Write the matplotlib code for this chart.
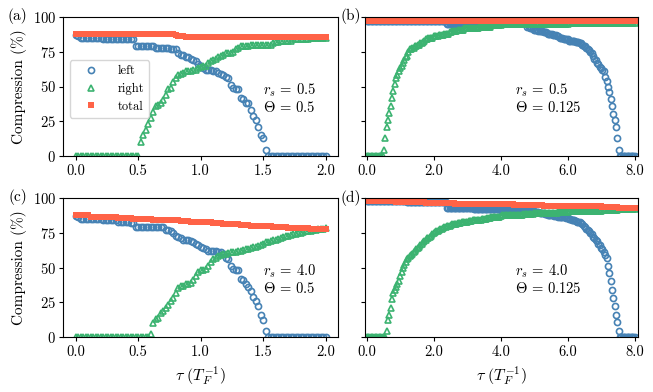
import numpy as np
import matplotlib.pyplot as plt
from matplotlib.ticker import FormatStrFormatter

plt.rcParams['font.family'] = 'serif'
plt.rcParams['font.serif'] = ['cmr10']
plt.rcParams['mathtext.fontset'] = 'cm'
plt.rcParams['axes.formatter.use_mathtext'] = True
plt.rcParams['axes.unicode_minus'] = False

blue = '#4682b4'
green = '#3cb371'
red = '#ff6347'

# tau sampling grids (T_F^-1)
tau_short = np.linspace(0, 2, 101)   # panels (a), (c)
tau_long = np.linspace(0, 8, 201)    # panels (b), (d)

# ---- (a) r_s = 0.5, Theta = 0.5
left_a = ([87, 86] + [85]*9 + [84]*13 + [79]*8 + [78]*6 + [77]*3
          + [74, 73, 73, 71, 71, 70, 69, 68, 66, 65,
             63, 62, 62, 62, 61, 61, 60, 59, 58, 57,
             56, 51, 49, 48, 48, 42, 41, 38, 38, 33,
             29, 26, 21, 15, 13, 4]
          + [0]*24)
right_a = ([0]*26
           + [10, 15, 19, 23, 27, 32, 36, 37, 38, 40,
              44, 48, 49, 53, 56, 58, 59, 60, 61, 61,
              61, 62, 62, 63, 64, 65, 65, 67, 68, 69,
              70, 71, 72, 73, 74, 74, 74, 75, 77, 78]
           + [79, 79, 79, 79, 80, 80, 80, 80, 80, 80, 80, 80, 80, 81]
           + [82, 82, 83, 83, 83, 83, 83, 84, 84, 84, 84, 84, 84, 84, 85]
           + [85]*6)
total_a = [87.5]*40 + [87, 86.5, 86, 86] + [85.5]*57

# ---- (b) r_s = 0.5, Theta = 0.125
left_b = ([97]*60 + [95]*15 + [96]*45
          + [93, 93, 92, 92, 92, 91, 91, 91, 90, 90,
             90, 90, 89, 89, 89, 88, 88, 88, 88, 87,
             87, 87, 86, 86, 85, 85, 85, 84, 84, 84,
             84, 83, 83, 83, 83, 83, 82, 82, 82, 81,
             81, 80, 79, 79, 78, 77, 76, 75, 74, 72,
             70, 69, 67, 66, 64, 63, 62, 61, 57, 54,
             50, 46, 41, 36, 30, 26, 21, 13, 4]
          + [0]*12)
right_b = ([0]*13
           + [4, 13, 21, 26, 31, 36, 42, 47, 52, 56,
              58, 61, 63, 65, 67, 69, 71, 72, 75, 77,
              77, 78, 78, 79, 79, 80, 80, 81, 81, 82,
              83, 84, 84, 85, 85, 85, 85, 86]
           + [86, 86, 86, 87, 87, 87, 87, 88, 88, 88, 88, 89]
           + [89, 90, 90, 90, 90, 91, 91, 91, 91, 91, 92, 92, 92]
           + [92]*8 + [93]*9 + [94]*8
           + [95]*50 + [96]*50)
total_b = [97]*201

# ---- (c) r_s = 4.0, Theta = 0.5
left_c = ([87, 86] + [85]*9 + [84]*6 + [83]*5 + [82]*2 + [79]*12
          + [77, 77, 76, 75, 73]
          + [72, 71, 70, 70, 70, 69, 68, 67, 66, 65,
             64, 63, 62, 62, 62, 62, 61, 61, 60, 57,
             56, 51, 49, 48, 48, 42, 41, 38, 36, 33,
             29, 26, 22, 16, 12, 4]
          + [0]*24)
right_c = ([0]*30
           + [2, 10, 13, 14, 17, 19, 21, 23, 26, 28,
              32, 35, 37, 37, 38, 38, 39, 41, 44, 47,
              48, 48, 49, 51, 54, 56, 57, 58, 59, 59.5,
              60, 60.5, 61, 61, 61.5, 62, 62, 62.5, 63, 63.5,
              64, 64.5, 65, 65.5, 66, 67, 68, 68.5, 69, 69.5,
              70, 70.5, 71, 72, 72.5, 73, 73.5, 74, 74, 74.5,
              75, 75.5, 76, 76, 76.5, 77, 77, 77.5, 78, 78, 78.5])
total_c = ([88]*6
           + [86.5, 86.5, 86.5, 86.5, 86, 86, 86, 86, 86, 86,
              86, 85.5, 85.5, 85.5, 85.5, 85.5, 85.5, 85, 85, 85]
           + [85, 85, 85, 85, 85, 84.5, 84.5, 84.5, 84.5, 84.5,
              84.5, 84, 84, 84, 84, 84, 83.5, 83.5, 83.5, 83.5,
              83, 83, 83, 83, 83]
           + [82.5, 82.5, 82.5, 82.5, 82, 82, 82, 82, 81.5, 81.5,
              81.5, 81, 81, 81, 81, 80.5, 80.5, 80.5, 80.5, 80,
              80, 80, 80, 80, 79.5]
           + [79.5, 79.5, 79.5, 79, 79, 79, 79, 79, 79, 78.5,
              78.5, 78.5, 78.5, 78.5, 78.5, 78.5, 78.5, 78.5, 78, 78,
              78, 78, 78, 78, 78])

# ---- (d) r_s = 4.0, Theta = 0.125
left_d = ([97.5]*30 + [97]*30 + [93]*20 + [92]*20 + [91.5]*20
          + [91, 91, 91, 91, 90.5, 90.5, 90, 90, 90, 89.5,
             89.5, 89, 89, 88.5, 88.5, 88, 88, 88, 87.5, 87.5,
             87, 87, 87, 86.5, 86.5, 86, 86, 86, 86, 85.5,
             85.5, 85, 85, 84.5, 84, 84, 83.5, 83, 83, 82.5,
             82, 81, 80, 79, 78, 77, 76, 75, 74, 72,
             71, 70, 69, 67, 66, 64, 63, 61, 59, 57,
             51, 46, 40, 34, 28, 22, 16, 11, 4]
          + [0]*12)
right_d = ([0]*15
           + [4, 12, 16, 21, 27, 32, 34, 36, 38, 40,
              44, 47, 50, 52, 54, 56, 57, 58, 59, 60,
              61, 62, 63, 64, 65, 66, 67, 68, 69, 70,
              71, 71.5, 72, 73, 74, 75]
           + [75.5, 76, 76.5, 77, 77.5, 78, 78.5, 79, 79, 79.5,
              80, 80, 80.5, 81, 81, 81, 81.5, 82, 82, 82,
              82.5, 82.5, 83, 83, 83]
           + [83.5, 83.5, 83.5, 84, 84, 84, 84, 84.5, 84.5, 84.5,
              85, 85, 85, 85, 85.5, 85.5, 85.5, 86, 86, 86,
              86, 86.5, 86.5, 86.5, 87]
           + [87.5]*8 + [88]*8 + [88.5]*8 + [89]*9 + [89.5]*9 + [90]*8
           + [90.5]*12 + [91]*13 + [91.5]*12 + [92]*13)
total_d = ([97.5]*22 + [97]*22 + [96.5]*22 + [96]*22 + [95.5]*22
           + [95]*22 + [94.5]*22 + [94]*22 + [93.5]*12 + [93]*13)

panel_tags = ['(a)', '(b)', '(c)', '(d)']
params = [('0.5', '0.5'), ('0.5', '0.125'), ('4.0', '0.5'), ('4.0', '0.125')]


def draw(ax, tau, left, right, total):
    ax.plot(tau, left, 'o', mfc='none', mec=blue, ms=4.4, mew=1.2, label='left')
    ax.plot(tau, right, '^', mfc='none', mec=green, ms=4.8, mew=1.2, label='right')
    ax.plot(tau, total, 's', color=red, mec=red, ms=5, mew=0, label='total')


fig = plt.figure(figsize=(6.53, 3.92), dpi=100)
W, H = 653, 392
boxes = [(63, 17), (365, 17), (63, 198), (365, 198)]
widths = [275, 273, 275, 273]
axes = []
for (x0, y0), w in zip(boxes, widths):
    axes.append(fig.add_axes([x0 / W, 1 - (y0 + 139) / H, w / W, 139 / H]))
ax_a, ax_b, ax_c, ax_d = axes

draw(ax_a, tau_short, left_a, right_a, total_a)
draw(ax_b, tau_long, left_b, right_b, total_b)
draw(ax_c, tau_short, left_c, right_c, total_c)
draw(ax_d, tau_long, left_d, right_d, total_d)

for i, ax in enumerate(axes):
    ax.set_ylim(0, 100)
    ax.set_yticks([0, 25, 50, 75, 100])
    if i % 2 == 0:
        ax.set_xlim(-0.1, 2.1)
        ax.set_xticks([0, 0.5, 1.0, 1.5, 2.0])
        ax.set_ylabel('Compression (%)', fontsize=11)
        tx = 0.727
    else:
        ax.set_xlim(-0.05, 8.1)
        ax.set_xticks([0, 2, 4, 6, 8])
        ax.set_yticklabels([])
        tx = 0.549
    ax.xaxis.set_major_formatter(FormatStrFormatter('%.1f'))
    ax.tick_params(labelsize=10.5, length=3, pad=2)
    ax.tick_params(axis='x', pad=3)
    rs, th = params[i]
    ax.text(tx, 0.415, r'$r_s\, =\, %s$' % rs + '\n' + r'$\Theta\, =\, %s$' % th,
            transform=ax.transAxes, fontsize=10.5, ha='left', va='center',
            linespacing=1.1)

ax_c.set_xlabel(r'$\tau\ (T_F^{-1})$', fontsize=11.5)
ax_d.set_xlabel(r'$\tau\ (T_F^{-1})$', fontsize=11.5)

fig.text(17 / W, 1 - 16 / H, panel_tags[0], fontsize=11, ha='center', va='center')
fig.text(351 / W, 1 - 16 / H, panel_tags[1], fontsize=11, ha='center', va='center')
fig.text(18 / W, 1 - 197 / H, panel_tags[2], fontsize=11, ha='center', va='center')
fig.text(351 / W, 1 - 198 / H, panel_tags[3], fontsize=11, ha='center', va='center')

ax_a.legend(loc='upper left', bbox_to_anchor=(0.025, 0.69), borderaxespad=0,
            fontsize=9, handlelength=2.6, handletextpad=0.8, borderpad=0.4,
            labelspacing=0.45)

fig.savefig('out.png', dpi=100)
